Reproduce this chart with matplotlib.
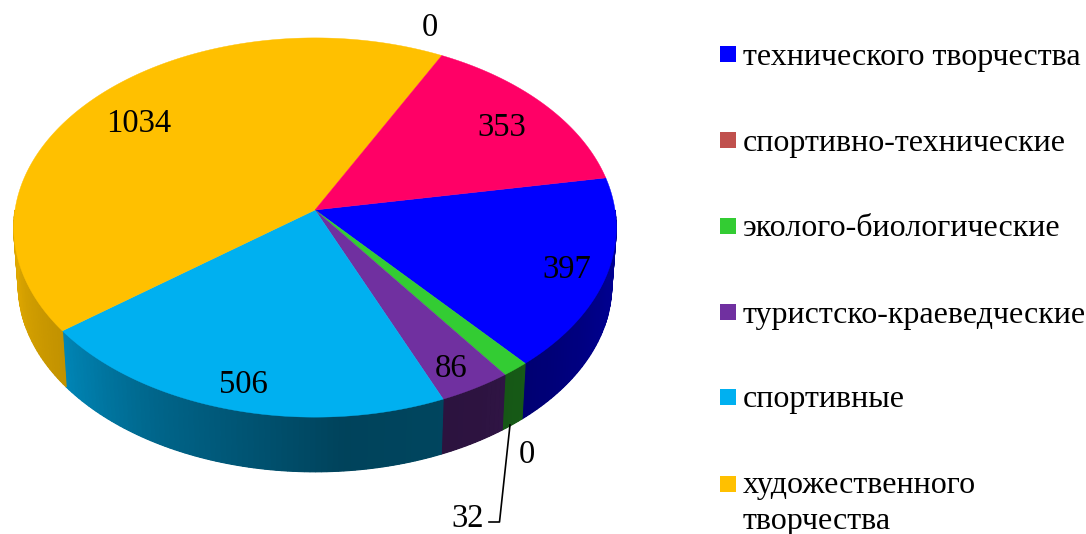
import numpy as np
import matplotlib
matplotlib.use("Agg")
import matplotlib.pyplot as plt
from matplotlib.patches import Polygon, Rectangle

plt.rcParams['font.family'] = ['Liberation Serif', 'DejaVu Serif']

# data, clockwise from the start angle
values = [397, 0, 32, 86, 506, 1034, 0, 353]
colors = ["#0000FF", "#C0504D", "#33CC33", "#7030A0", "#00B0F0", "#FFC000", "#9BBB59", "#FF0066"]
value_labels = ["397", "0", "32", "86", "506", "1034", "0", "353"]
legend_labels = ["технического творчества", "спортивно-технические", "эколого-биологические",
                 "туристско-краеведческие", "спортивные", "художественного\nтворчества"]

# label positions in image pixels
label_xy = [(567, 270), (527, 455), (468, 519), (451, 369), (243, 385), (139, 124), (430, 28), (502, 128)]
legend_y = [55, 141, 227, 313, 398, 485]

start_angle = 10
persp = 0.0924


def project(t, cx, cy, rx, ry):
    # circle seen in perspective, nearer edge is bigger
    t = np.radians(t)
    w = 1 + persp * np.sin(t)
    return cx + rx * np.cos(t) / w, cy - ry * np.sin(t) / w


def top_rim(t):
    return project(t, 315, 210, 300, 188)


def bottom_rim(t):
    return project(t, 315, 268, 295.5, 185)


def shade(color, t):
    # darker towards the front of the side wall
    f = np.interp(t, [-180, -165, -143, -120, -85, -60, -48, -20, 0],
                  [0.88, 0.85, 0.76, 0.58, 0.38, 0.40, 0.45, 0.55, 0.58])
    return tuple(np.array(matplotlib.colors.to_rgb(color)) * f)


fig = plt.figure(figsize=(10.86, 5.34), dpi=100)
ax = fig.add_axes([0, 0, 1, 1])
ax.set_xlim(0, 1086)
ax.set_ylim(534, 0)
ax.axis("off")

angles = start_angle - np.cumsum([0] + values) / sum(values) * 360

# side wall first, only the part facing us
for i, c in enumerate(colors):
    hi, lo = min(angles[i], 0), max(angles[i + 1], -180)
    if values[i] == 0 or hi <= lo:
        continue
    ts = np.linspace(hi, lo, int(hi - lo) + 2)
    xt, yt = top_rim(ts)
    xb, yb = bottom_rim(ts)
    base = shade(c, (hi + lo) / 2)
    pts = np.column_stack([np.r_[xt, xb[::-1]], np.r_[yt, yb[::-1]]])
    ax.add_patch(Polygon(pts, closed=True, fc=base, ec="none", zorder=2))
    for j in range(len(ts) - 1):
        col = shade(c, (ts[j] + ts[j + 1]) / 2)
        quad = [(xt[j], yt[j]), (xt[j + 1], yt[j + 1]), (xb[j + 1], yb[j + 1]), (xb[j], yb[j])]
        ax.add_patch(Polygon(quad, closed=True, fc=col, ec=col, lw=0.8, zorder=2))

# top face
for i, c in enumerate(colors):
    if values[i] == 0:
        continue
    ts = np.linspace(angles[i], angles[i + 1], 200)
    x, y = top_rim(ts)
    pts = np.column_stack([np.r_[315, x], np.r_[210, y]])
    ax.add_patch(Polygon(pts, closed=True, fc=c, ec=c, lw=0.3, zorder=3))

for txt, (x, y) in zip(value_labels, label_xy):
    ax.text(x, y, txt, fontsize=23.5, color="black", ha="center", va="center", zorder=5)

# leader line for the small slice
ax.plot([510, 499.5, 489], [425, 522, 522], color="black", lw=1.2, zorder=4)

# legend
for i, lab in enumerate(legend_labels):
    ax.add_patch(Rectangle((720, legend_y[i] - 9), 16, 16, fc=colors[i], ec="none", zorder=5))
    if "\n" in lab:
        ax.text(743, legend_y[i] - 14, lab, fontsize=23, ha="left", va="top", linespacing=1.3, zorder=5)
    else:
        ax.text(743, legend_y[i] + 2, lab, fontsize=23, ha="left", va="center", zorder=5)

plt.savefig("out.png", dpi=100)
